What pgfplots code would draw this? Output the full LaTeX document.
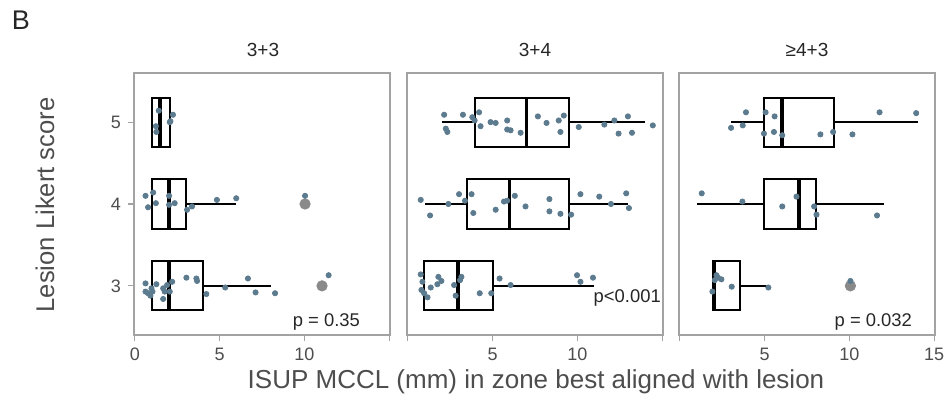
\documentclass[border=0pt]{standalone}
\usepackage{fontspec}
\setmainfont{Liberation Sans}
\usepackage{pgfplots}
\pgfplotsset{compat=1.18}
\usepgfplotslibrary{statistics}
\definecolor{framegray}{HTML}{A3A3A3}
\definecolor{textgray}{HTML}{4D4D4D}
\definecolor{ptcol}{HTML}{5C7B8F}
\definecolor{outl}{HTML}{8A8A8A}
\tikzset{pv/.style={font=\fontsize{9.2}{10}\selectfont, text=black!85}}
\pgfplotsset{
  panel/.style={
    scale only axis, width=128pt, height=131pt,
    xmin=-0.05, xmax=15.05, ymin=2.4, ymax=5.6,
    axis line style={draw=framegray, line width=0.6pt},
    tick style={draw=framegray, line width=0.6pt},
    tick align=outside, major tick length=3pt,
    xtick pos=left, ytick pos=left,
    xtick={0,5,10,15},
    ticklabel style={font=\fontsize{9}{10}\selectfont, text=textgray},
    /pgf/number format/assume math mode=true,
    clip=false,
    boxplot/box extend=0.6,
    boxplot/whisker extend=0,
    boxplot/every box/.style={draw=black, line width=0.95pt, fill=white},
    boxplot/every whisker/.style={draw=black, line width=0.95pt},
    boxplot/every median/.style={draw=black, line width=1.9pt},
  },
  bx/.style={black, solid, line width=0.95pt},
  jit/.style={only marks, mark=*, mark size=1.3pt, color=ptcol, mark options={draw=none, fill=ptcol}},
  out/.style={only marks, mark=*, mark size=2.6pt, color=outl, mark options={draw=none, fill=outl}},
}
\begin{document}
\begin{tikzpicture}
\path[use as bounding box] (0,0) rectangle (474pt,200pt);
\node[font=\fontsize{13.5}{15}\selectfont, text=black!85] at (10.5pt,190pt) {B};
\node[rotate=90, font=\fontsize{12.8}{15}\selectfont, text=textgray] at (22.5pt,97.5pt) {Lesion Likert score};
\node[font=\fontsize{13}{15}\selectfont, text=textgray] at (268pt,9pt) {ISUP MCCL (mm) in zone best aligned with lesion};
\node[font=\fontsize{9.5}{11}\selectfont, text=black!85] at (131.5pt,175pt) {3+3};
\node[font=\fontsize{9.5}{11}\selectfont, text=black!85] at (267.5pt,175pt) {3+4};
\node[font=\fontsize{9.5}{11}\selectfont, text=black!85] at (403.5pt,175pt) {≥4+3};

% ---------- Panel 1: 3+3 ----------
\begin{axis}[panel, at={(67pt,32.5pt)}, anchor=south west,
  xticklabels={0,5,10,{}}, ytick={3,4,5}]
\addplot[bx, boxplot prepared={draw position=5, lower whisker=1.0, lower quartile=1.0, median=1.5, upper quartile=2.05, upper whisker=2.05}] coordinates {};
\addplot[bx, boxplot prepared={draw position=4, lower whisker=1.0, lower quartile=1.02, median=2.02, upper quartile=3.04, upper whisker=5.98}] coordinates {};
\addplot[bx, boxplot prepared={draw position=3, lower whisker=1.0, lower quartile=1.02, median=2.02, upper quartile=4.02, upper whisker=8.04}] coordinates {};
\addplot[out] coordinates {(10.04,4) (11.04,3)};
\addplot[jit] coordinates {
(1.41,5.14) (2.25,5.09) (2.10,5.01) (2.06,5.00) (1.24,4.95) (1.27,4.88)
(0.63,4.10) (1.08,4.14) (0.78,3.96) (1.24,4.01) (2.02,4.10) (2.02,3.99) (2.35,4.01) (3.08,3.93) (3.37,3.97) (4.84,4.05) (5.98,4.07) (10.04,4.10)
(0.63,3.03) (0.63,2.93) (0.78,2.91) (0.92,2.88) (1.04,2.93) (1.27,3.02) (0.98,2.97) (1.67,2.97) (1.76,2.93) (1.67,2.84) (1.90,3.01) (2.20,3.05) (2.06,2.93) (3.04,3.10) (3.63,3.09) (3.67,3.06) (4.22,2.90) (5.33,2.98) (6.67,3.09) (7.12,2.92) (8.27,2.91) (11.43,3.13)
};
\node[pv] at (axis cs:11.3,2.556) {p = 0.35};
\end{axis}

% ---------- Panel 2: 3+4 ----------
\begin{axis}[panel, at={(203.5pt,32.5pt)}, anchor=south west,
  xticklabels={{},5,10,{}}, ytick=\empty]
\addplot[bx, boxplot prepared={draw position=5, lower whisker=2.04, lower quartile=3.94, median=7.0, upper quartile=9.53, upper whisker=14.0}] coordinates {};
\addplot[bx, boxplot prepared={draw position=4, lower whisker=1.0, lower quartile=3.47, median=6.0, upper quartile=9.53, upper whisker=12.98}] coordinates {};
\addplot[bx, boxplot prepared={draw position=3, lower whisker=0.96, lower quartile=0.96, median=2.98, upper quartile=5.02, upper whisker=10.96}] coordinates {};
\addplot[jit] coordinates {
(2.14,5.09) (2.24,4.92) (2.33,4.88) (3.25,5.09) (3.80,5.06) (4.20,5.12) (3.94,5.02) (4.29,4.95) (4.88,5.00) (5.18,4.99) (5.86,5.02) (5.86,4.91) (6.06,4.90) (6.65,4.87) (7.67,5.07) (8.18,4.99) (8.90,5.02) (9.20,5.08) (9.00,4.88) (10.08,4.94) (11.59,4.97) (12.18,5.02) (12.43,4.86) (12.98,5.07) (13.22,4.87) (14.45,4.96)
(0.76,4.05) (1.31,3.86) (2.39,4.00) (3.02,4.12) (3.37,4.04) (3.76,4.12) (3.86,3.89) (5.18,3.93) (5.67,4.03) (5.86,4.04) (6.31,4.10) (6.94,3.97) (8.35,4.06) (8.35,3.91) (9.00,3.88) (9.63,3.87) (10.18,4.12) (11.29,4.09) (11.98,4.00) (12.88,4.13) (13.04,3.95)
(0.76,3.14) (0.86,3.05) (0.80,2.95) (0.96,2.91) (1.16,2.86) (1.35,2.98) (1.80,3.11) (1.74,3.02) (1.98,3.06) (2.73,3.01) (2.82,2.88) (3.08,3.07) (3.16,3.11) (4.24,2.91) (4.92,2.91) (5.41,3.09) (6.06,3.01) (9.98,3.13) (10.18,3.05) (10.92,3.10)
};
\node[pv] at (axis cs:12.94,2.85) {p<0.001};
\end{axis}

% ---------- Panel 3: >=4+3 ----------
\begin{axis}[panel, at={(339.5pt,32.5pt)}, anchor=south west,
  xticklabels={{},5,10,15}, ytick=\empty]
\addplot[bx, boxplot prepared={draw position=5, lower whisker=3.02, lower quartile=4.98, median=6.04, upper quartile=9.08, upper whisker=14.04}] coordinates {};
\addplot[bx, boxplot prepared={draw position=4, lower whisker=1.0, lower quartile=4.98, median=7.02, upper quartile=8.02, upper whisker=12.02}] coordinates {};
\addplot[bx, boxplot prepared={draw position=3, lower whisker=1.94, lower quartile=1.94, median=2.02, upper quartile=3.55, upper whisker=5.22}] coordinates {};
\addplot[out] coordinates {(10.06,3)};
\addplot[jit] coordinates {
(3.02,4.93) (3.71,4.96) (3.90,5.12) (4.96,4.86) (5.06,5.12) (5.55,4.88) (5.59,5.07) (6.04,4.84) (8.29,4.85) (9.04,4.88) (10.18,4.85) (11.78,5.12) (13.94,5.11)
(1.29,4.13) (3.69,4.03) (6.04,3.97) (6.88,4.09) (7.92,3.97) (8.06,3.87) (11.63,3.86)
(1.92,2.93) (2.06,3.07) (2.16,3.13) (2.25,3.10) (2.45,3.08) (3.06,2.99) (5.22,2.98) (10.06,3.06)
};
\node[pv] at (axis cs:11.41,2.556) {p = 0.032};
\end{axis}
\end{tikzpicture}
\end{document}
